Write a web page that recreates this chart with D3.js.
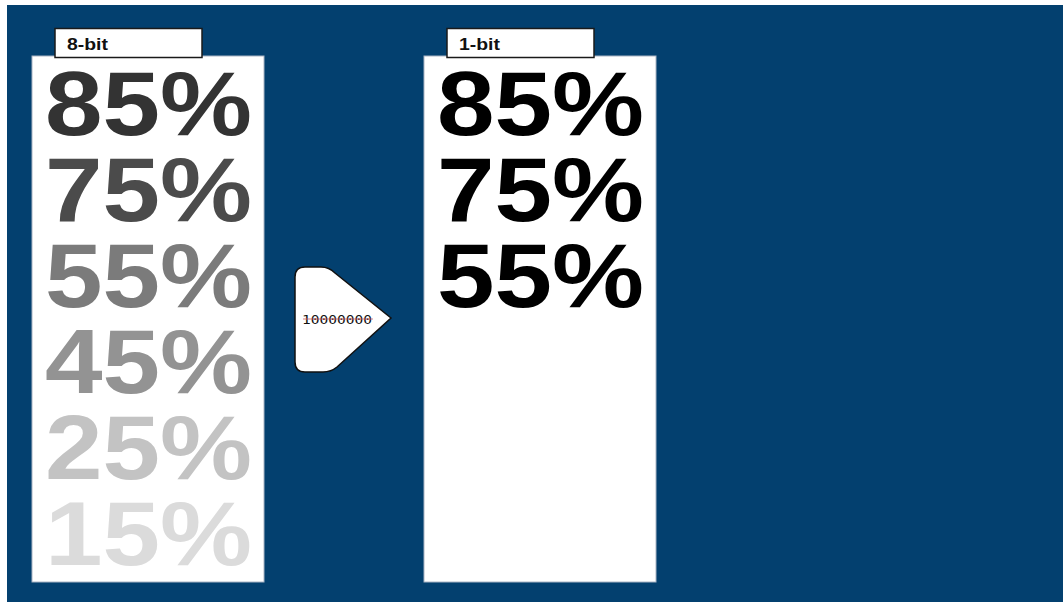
<!DOCTYPE html>
<html>
<head>
<meta charset="utf-8">
<script src="https://cdn.jsdelivr.net/npm/d3@7"></script>
<style>
    html, body { margin: 0; padding: 0; background: #fff; }
    svg { display: block; }
</style>
</head>
<body>
<script>
const WIDTH_SVG = 1063;
const HEIGHT_SVG = 602;

// data
const percents = [85, 75, 55, 45, 25, 15];
const panels = ["8-bit", "1-bit"];
const code = "10000000";

const BG = "#03406f";
const PANEL_W = 232;
const PANEL_TOP = 56;
const PANEL_BOTTOM = 582;
const FONT = "'Liberation Sans', Arial, Helvetica, sans-serif";

const svg = d3.select("body")
    .append("svg")
        .attr("width", WIDTH_SVG)
        .attr("height", HEIGHT_SVG);

// blue background (white strip on top and left like the source)
svg.append("rect")
    .attr("x", 7)
    .attr("y", 5)
    .attr("width", WIDTH_SVG - 7)
    .attr("height", HEIGHT_SVG - 5)
    .attr("fill", BG);

// scales
const x = d3.scaleOrdinal()
    .domain(panels)
    .range([32, 424]);

const y = d3.scaleBand()
    .domain(percents)
    .range([PANEL_TOP, PANEL_TOP + 86 * percents.length]);

const gray = d3.scaleLinear()
    .domain([0, 100])
    .range(["#ffffff", "#0f0f0f"]);

const bw = d3.scaleThreshold()
    .domain([50])
    .range(["#ffffff", "#000000"]);

const colorFor = {
    "8-bit": gray,
    "1-bit": bw
};

const panel = svg.selectAll("g.panel")
    .data(panels)
    .join("g")
        .attr("class", "panel")
        .attr("transform", d => `translate(${x(d)},0)`);

panel.append("rect")
    .attr("x", 0)
    .attr("y", PANEL_TOP)
    .attr("width", PANEL_W)
    .attr("height", PANEL_BOTTOM - PANEL_TOP)
    .attr("fill", "#fff")
    .attr("stroke", "#aab4c4")
    .attr("stroke-width", 1);

// label box
panel.append("rect")
    .attr("x", 23)
    .attr("y", 28.5)
    .attr("width", 147)
    .attr("height", 29)
    .attr("fill", "#fff")
    .attr("stroke", "#1a1a1a")
    .attr("stroke-width", 1.5);

panel.append("text")
    .attr("x", 35)
    .attr("y", 50)
    .attr("font-family", FONT)
    .attr("font-weight", "bold")
    .attr("font-size", 16.5)
    .attr("textLength", 41)
    .attr("lengthAdjust", "spacingAndGlyphs")
    .attr("fill", "#111")
    .text(d => d);

// big percentages
panel.each(function(p) {
    d3.select(this).selectAll("text.pct")
        .data(percents)
        .join("text")
            .attr("class", "pct")
            .attr("x", 13)
            .attr("y", d => y(d) + 79)
            .attr("font-family", FONT)
            .attr("font-weight", "bold")
            .attr("font-size", 90)
            .attr("textLength", 207)
            .attr("lengthAdjust", "spacingAndGlyphs")
            .attr("fill", d => colorFor[p](d))
            .text(d => d + "%");
});

// converter arrow between panels
const arrow = svg.append("g")
    .attr("transform", "translate(295,267)");

const path = d3.path();
path.moveTo(0, 10);
path.quadraticCurveTo(0, 0, 10, 0);
path.lineTo(26, 0);
path.quadraticCurveTo(34, 0, 40, 6);
path.lineTo(96, 51);
path.lineTo(42, 100);
path.quadraticCurveTo(36, 105, 28, 105);
path.lineTo(10, 105);
path.quadraticCurveTo(0, 105, 0, 95);
path.closePath();

arrow.append("path")
    .attr("d", path.toString())
    .attr("fill", "#fff")
    .attr("stroke", "#111")
    .attr("stroke-width", 1.5);

arrow.append("text")
    .attr("x", 7)
    .attr("y", 57)
    .attr("font-family", "'DejaVu Sans Mono', 'Liberation Mono', monospace")
    .attr("font-size", 13)
    .attr("textLength", 70)
    .attr("lengthAdjust", "spacingAndGlyphs")
    .attr("fill", "#111")
    .text(code);

arrow.append("line")
    .attr("x1", 8)
    .attr("x2", 78)
    .attr("y1", 52)
    .attr("y2", 52)
    .attr("stroke", "#d05a64")
    .attr("stroke-opacity", 0.8)
    .attr("stroke-width", 1);
</script>
</body>
</html>
